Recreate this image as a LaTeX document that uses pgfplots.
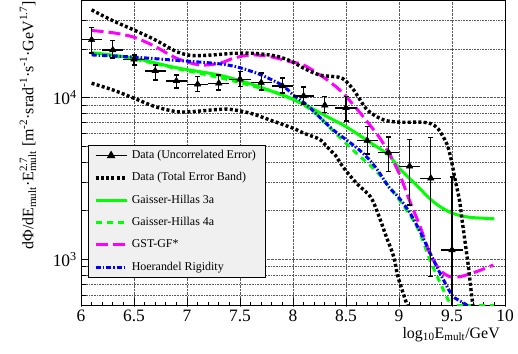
\documentclass[border=0pt]{standalone}
\usepackage{fontspec}
\setmainfont{Liberation Serif}
\usepackage{pgfplots}
\usepackage{pgfplotstable}
\pgfplotsset{compat=1.18}
\definecolor{rgreen}{RGB}{0,255,0}
\definecolor{rmag}{RGB}{255,0,255}
\definecolor{rblue}{RGB}{0,0,255}
\newcommand{\supsub}[2]{\rlap{\textsuperscript{#1}}\textsubscript{#2}}
\pgfplotsset{
 databand/.style={black, line width=3.4bp, dash pattern=on 3bp off 2.3bp},
 gha/.style={rgreen, line width=3bp},
 ghb/.style={rgreen, line width=3bp, dash pattern=on 6bp off 5bp},
 gst/.style={rmag, line width=3bp, dash pattern=on 12bp off 5bp},
 hoer/.style={rblue, line width=3bp, dash pattern=on 5bp off 2bp on 1.5bp off 2bp},
}
\pgfplotstableread{
x y ep em
6.1 22770 4330 3870
6.3 19700 2830 2090
6.5 17290 1080 1350
6.7 14630 1310 1760
6.9 12690 1130 1210
7.1 12100 1390 1210
7.3 12280 1540 1120
7.5 13000 1490 1300
7.7 12380 1840 1220
7.9 11810 1430 1120
8.1 10240 1410 1100
8.3 8970 1200 870
8.5 8640 1500 1465
8.7 5435 1180 952
8.9 4580 1133 1095
9.1 3763 1767 1595
9.3 3171 2519 2391
9.5 1142 2089 1042
}\datatab
\pgfplotstableread{
x y
6.1 34900
6.3 29900
6.5 26200
6.7 22750
6.9 19270
7.05 18200
7.25 18380
7.45 18800
7.65 18750
7.85 18000
8.0 16600
8.1 15200
8.25 13800
8.38 13500
8.47 13100
8.57 11200
8.7 8400
8.85 7300
9.0 7050
9.2 7050
9.3 6900
9.37 6400
9.45 5200
9.49 4200
9.53 3100
9.57 2330
9.595 1750
9.625 1256
9.655 900
9.676 676
9.695 533
9.71 470
}\bandup
\pgfplotstableread{
x y
6.1 12270
6.3 11160
6.5 9910
6.7 8790
6.9 8190
7.05 8190
7.25 8400
7.4 8470
7.6 8000
7.78 7280
8.0 6470
8.1 6030
8.19 5740
8.26 5470
8.35 4740
8.4 4400
8.475 3700
8.6 2950
8.73 2440
8.8 1930
8.88 1380
8.95 1040
8.99 780
9.07 537
9.09 490
}\banddn
\pgfplotstableread{
x y
6.1 18970
6.5 17540
6.9 15310
7.3 13800
7.6 12160
7.9 10350
8.1 9120
8.3 7760
8.5 6610
8.7 5430
8.9 4420
9.0 3670
9.1 3160
9.2 2720
9.3 2340
9.4 2090
9.5 1930
9.6 1850
9.7 1810
9.9 1780
}\ghA
\pgfplotstableread{
x y
6.1 18710
6.5 17300
6.9 15140
7.3 13340
7.6 11890
7.8 10960
8.0 9770
8.2 8130
8.4 6030
8.6 4520
8.8 3430
9.0 2340
9.17 1590
9.29 1000
9.39 710
9.465 560
9.52 490
}\ghB
\pgfplotstableread{
x y
6.1 26000
6.3 25200
6.5 23640
6.7 20700
6.9 17540
7.12 15920
7.31 16330
7.44 17540
7.6 18370
7.78 17950
7.97 16700
8.1 15920
8.3 13180
8.44 11160
8.57 9020
8.7 7100
8.82 5610
8.915 4420
9.01 3300
9.1 2300
9.2 1590
9.29 1090
9.386 859
9.48 780
9.575 780
9.73 838
9.89 922
}\gsttab
\pgfplotstableread{
x y
6.1 18370
6.5 17800
6.9 17000
7.3 16200
7.5 15300
7.7 13800
7.9 11900
8.0 10400
8.13 9020
8.26 7470
8.38 6310
8.5 5500
8.6 4900
8.7 4270
8.8 3550
8.9 2820
9.0 2400
9.1 1950
9.2 1480
9.3 1070
9.4 790
9.5 600
9.56 560
9.64 521
9.7 480
}\hoertab
\begin{document}
\begin{tikzpicture}
\useasboundingbox (0,0) rectangle (518bp,354bp);
\begin{axis}[
  at={(81bp,48bp)}, anchor=south west,
  scale only axis, width=424bp, height=305bp,
  xmin=6, xmax=10, ymode=log, ymin=514, ymax=39600,
  axis line style={line width=1bp},
  tick pos=left, tick align=inside,
  xtick distance=0.5, minor x tick num=4,
  ytick={1000,10000},
  yticklabels={10\textsuperscript{3},10\textsuperscript{4}},
  minor ytick={600,700,800,900,2000,3000,4000,5000,6000,7000,8000,9000,20000,30000},
  major tick length=8.5bp, minor tick length=4.5bp,
  tick style={line width=0.8bp, black},
  xmajorgrids, ymajorgrids, yminorgrids,
  grid style={densely dotted, black!65, line width=0.6bp},
  minor grid style={densely dotted, black!65, line width=0.6bp},
  tick label style={font=\fontsize{17.5}{20}\selectfont},
  xticklabel style={/pgf/number format/assume math mode=true, inner sep=0pt, yshift=-4bp},
  yticklabel style={inner sep=0pt, xshift=-4bp},
  xlabel={log\textsubscript{10}E\textsubscript{mult}/GeV},
  xlabel style={font=\fontsize{16}{19}\selectfont, at={(axis description cs:1,0)}, anchor=north east, inner sep=0pt, xshift=-5bp, yshift=-21bp},
  ylabel={dΦ/dE\textsubscript{mult}·E\supsub{2.7}{mult} [m\textsuperscript{-2}·srad\textsuperscript{-1}·s\textsuperscript{-1}·GeV\textsuperscript{1.7}]},
  ylabel style={font=\fontsize{16}{19}\selectfont, at={(axis description cs:-0.125,1)}, anchor=east, inner sep=0pt},
  legend style={at={(axis description cs:0.0165,0.528)}, anchor=north west,
    fill=black!6, draw=black, line width=0.8bp,
    font=\fontsize{12}{14}\selectfont,
    inner xsep=5.5bp, inner ysep=3.8bp,
    nodes={inner xsep=3.5bp, inner ysep=1bp, text height=8.5bp, text depth=2.5bp},
    row sep=9.3bp},
  legend cell align=left,
  legend image code/.code={\draw[mark repeat=2,mark phase=2,#1] plot coordinates {(0bp,0bp) (15.5bp,0bp) (31bp,0bp)};},
]
\addlegendimage{black, line width=1.3bp, mark=triangle*, mark size=3.8bp}
\addlegendentry{Data (Uncorrelated Error)}
\addlegendimage{databand}
\addlegendentry{Data (Total Error Band)}
\addlegendimage{gha}
\addlegendentry{Gaisser-Hillas 3a}
\addlegendimage{ghb}
\addlegendentry{Gaisser-Hillas 4a}
\addlegendimage{gst}
\addlegendentry{GST-GF*}
\addlegendimage{hoer}
\addlegendentry{Hoerandel Rigidity}

\addplot[forget plot, gha, smooth] table {\ghA};
\addplot[forget plot, ghb, smooth] table {\ghB};
\addplot[forget plot, ghb] coordinates {(9.55,518) (9.9,518)};
\addplot[forget plot, gst, smooth] table {\gsttab};
\addplot[forget plot, hoer, smooth] table {\hoertab};
\addplot[forget plot, databand, smooth] table {\bandup};
\addplot[forget plot, databand, smooth] table {\banddn};
\addplot[forget plot, only marks, mark=none,
  error bars/.cd, x dir=both, x fixed=0.1, error mark=none,
  error bar style={draw=black, solid, line width=1.3bp}] table[x=x,y=y] {\datatab};
\addplot[forget plot, only marks, black, mark=triangle*, mark size=3.8bp,
  error bars/.cd, y dir=both, y explicit,
  error bar style={draw=black, solid, line width=1.3bp},
  error mark options={rotate=90, black, mark size=2.5bp, line width=1.3bp}]
  table[x=x,y=y,y error plus=ep,y error minus=em] {\datatab};
\end{axis}
\end{tikzpicture}
\end{document}
